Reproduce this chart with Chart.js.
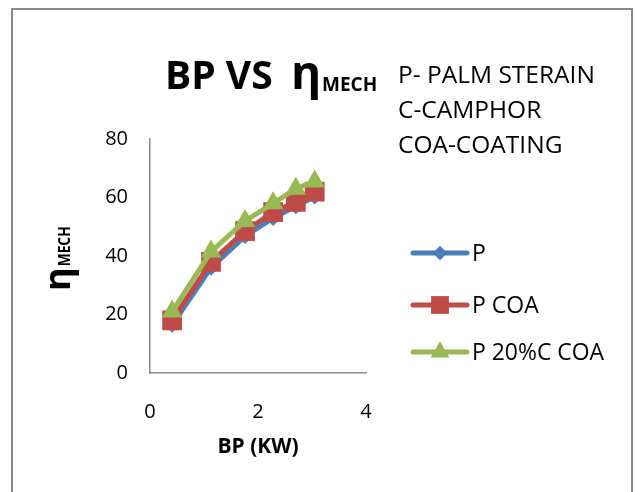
<!DOCTYPE html>
<html>
<head>
<meta charset="utf-8">
<script src="https://cdn.jsdelivr.net/npm/chart.js@4/dist/chart.umd.min.js"></script>
<style>
  html, body { margin: 0; padding: 0; background: #fff; }
  #wrap { width: 636px; height: 492px; }
</style>
</head>
<body>
<div id="wrap"><canvas id="myChart" width="636" height="492"></canvas></div>
<script>
// data
var bp = [0.41, 1.13, 1.76, 2.28, 2.7, 3.05]
var etaP = [16.5, 36, 46.8, 53, 57, 60.3]
var etaPCoa = [18, 38, 48.5, 55, 58.5, 62]
var etaPCCoa = [21, 41.5, 52, 58, 63, 65.5]
var seriesNames = ['P', 'P COA', 'P 20%C COA']
var xTicks = [0, 2, 4]
var yTicks = [0, 20, 40, 60, 80]
var notes = ['P- PALM STERAIN', 'C-CAMPHOR', 'COA-COATING']

var FONT = '"Open Sans", "DejaVu Sans", sans-serif'
var colors = ['#4a7ebb', '#be4b48', '#98b954']
var styles = ['rectRot', 'rect', 'triangle']
var radii = [8, 14, 12]

function pts(ys) {
  return bp.map(function (x, i) { return { x: x, y: ys[i] } })
}

// titles, notes, legend and frame drawn on the canvas
var extras = {
  id: 'extras',
  afterDraw: function (chart) {
    var c = chart.ctx
    c.save()
    // outer frame
    c.strokeStyle = '#878787'
    c.lineWidth = 2
    c.strokeRect(12, 9, 620, 500)

    c.fillStyle = '#000'
    c.textBaseline = 'alphabetic'
    c.textAlign = 'left'
    // main title
    c.font = 'bold 39px ' + FONT
    c.fillText('BP VS', 165, 89, 113)
    c.font = 'bold 46px ' + FONT
    c.fillText('η', 291, 89)
    c.font = 'bold 19px ' + FONT
    c.fillText('MECH', 322, 91, 56)

    // notes
    c.font = '24.5px ' + FONT
    notes.forEach(function (t, i) {
      c.fillText(t, 398, 83 + i * 35, 201)
    })

    // y axis title
    c.save()
    c.translate(70, 291)
    c.rotate(-Math.PI / 2)
    c.font = 'bold 36px ' + FONT
    c.fillText('η', 0, 0)
    var w = c.measureText('η').width
    c.font = 'bold 16px ' + FONT
    c.fillText('MECH', w + 1, 0, 40)
    c.restore()

    // legend
    var ly = [253, 305, 352]
    seriesNames.forEach(function (name, i) {
      c.strokeStyle = colors[i]
      c.lineWidth = 5
      c.lineCap = 'round'
      c.beginPath()
      c.moveTo(413, ly[i])
      c.lineTo(467, ly[i])
      c.stroke()
      c.fillStyle = colors[i]
      Chart.helpers.drawPoint(c, { pointStyle: styles[i], radius: radii[i] * 0.9, borderWidth: 0 }, 440, ly[i])
      c.fillStyle = '#000'
      c.font = '23px ' + FONT
      c.textBaseline = 'middle'
      c.fillText(name, 472, ly[i] + 1, 132)
    })
    c.restore()
  }
}

var ctx = document.getElementById('myChart').getContext('2d')
var chart = new Chart(ctx, {
  type: 'line',
  data: {
    datasets: [
      { label: seriesNames[0], data: pts(etaP), order: 3 },
      { label: seriesNames[1], data: pts(etaPCoa), order: 2 },
      { label: seriesNames[2], data: pts(etaPCCoa), order: 1 }
    ].map(function (d, i) {
      d.borderColor = colors[i]
      d.backgroundColor = colors[i]
      d.borderWidth = 5
      d.pointStyle = styles[i]
      d.pointRadius = radii[i]
      d.pointBorderWidth = 0
      d.pointBackgroundColor = colors[i]
      d.tension = 0
      return d
    })
  },
  options: {
    responsive: false,
    animation: false,
    layout: { padding: { left: 0, top: 139, right: 270, bottom: 0 } },
    plugins: {
      legend: { display: false },
      tooltip: { enabled: false }
    },
    scales: {
      x: {
        type: 'linear',
        min: 0,
        max: 4,
        afterFit: function (s) { s.height = 119 },
        afterBuildTicks: function (s) { s.ticks = xTicks.map(function (v) { return { value: v } }) },
        grid: { display: false },
        border: { display: true, color: '#8c8c8c', width: 1.5 },
        ticks: { color: '#000', padding: 19, font: { family: FONT, size: 20 } },
        title: {
          display: true,
          text: 'BP (KW)',
          color: '#000',
          padding: { top: 0, bottom: 32 },
          font: { family: FONT, size: 21, weight: 'bold' }
        }
      },
      y: {
        min: 0,
        max: 80,
        afterFit: function (s) { s.width = 150 },
        afterBuildTicks: function (s) { s.ticks = yTicks.map(function (v) { return { value: v } }) },
        grid: { display: false },
        border: { display: true, color: '#8c8c8c', width: 1.5 },
        ticks: { color: '#000', padding: 14, font: { family: FONT, size: 20 } }
      }
    }
  },
  plugins: [extras]
})
</script>
</body>
</html>
